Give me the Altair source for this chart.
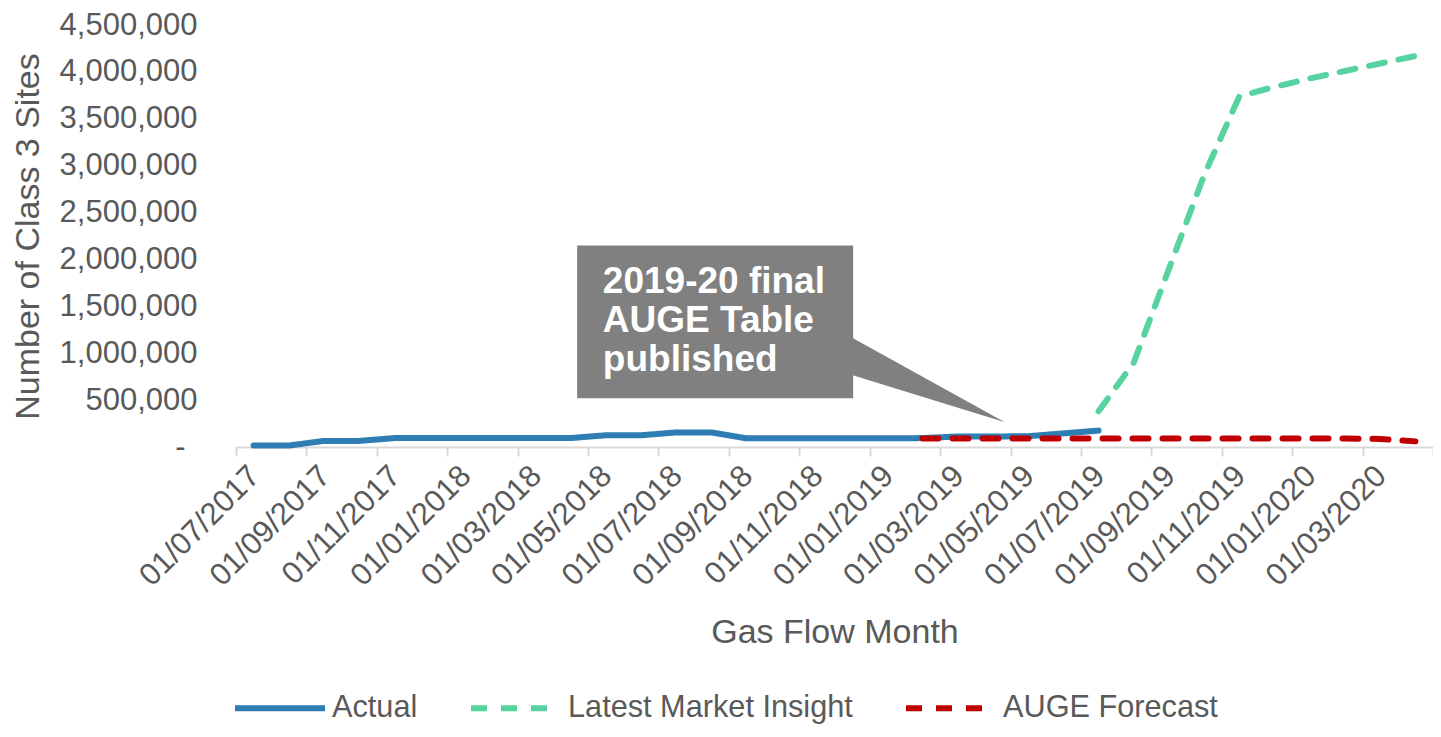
import json
import altair as alt
import pandas as pd

# ---------------- data ----------------
months = ['07/2017', '08/2017', '09/2017', '10/2017', '11/2017', '12/2017',
          '01/2018', '02/2018', '03/2018', '04/2018', '05/2018', '06/2018',
          '07/2018', '08/2018', '09/2018', '10/2018', '11/2018', '12/2018',
          '01/2019', '02/2019', '03/2019', '04/2019', '05/2019', '06/2019',
          '07/2019', '08/2019', '09/2019', '10/2019', '11/2019', '12/2019',
          '01/2020', '02/2020', '03/2020', '04/2020']

tick_labels = ['01/07/2017', '01/09/2017', '01/11/2017', '01/01/2018', '01/03/2018',
               '01/05/2018', '01/07/2018', '01/09/2018', '01/11/2018', '01/01/2019',
               '01/03/2019', '01/05/2019', '01/07/2019', '01/09/2019', '01/11/2019',
               '01/01/2020', '01/03/2020']

actual_start = '07/2017'
actual = [15000, 15000, 65000, 65000, 95000, 95000, 95000, 95000, 95000, 95000,
          125000, 125000, 155000, 155000, 92000, 92000, 92000, 92000, 92000, 95000,
          112000, 112000, 115000, 145000, 175000]

lmi_start = '07/2019'
latest_market_insight = [380000, 900000, 1900000, 2900000, 3740000, 3840000,
                         3930000, 4010000, 4090000, 4170000]

auge_start = '02/2019'
auge_forecast = [90000, 90000, 90000, 90000, 90000, 90000, 90000, 90000, 90000,
                 90000, 90000, 90000, 90000, 86000, 60000]

series_names = ['Actual', 'Latest Market Insight', 'AUGE Forecast']
series_colors = ['#2F7EB3', '#57D3A0', '#C00000']
series_dash = [[1, 0], [16, 14], [16, 14]]

y_ticks = [0, 500000, 1000000, 1500000, 2000000, 2500000, 3000000, 3500000,
           4000000, 4500000]

callout_text = '2019-20 final\nAUGE Table\npublished'

# ---------------- frames ----------------
rows = []
for name, start, vals in [(series_names[0], actual_start, actual),
                          (series_names[1], lmi_start, latest_market_insight),
                          (series_names[2], auge_start, auge_forecast)]:
    s = months.index(start)
    for i, v in enumerate(vals):
        rows.append({'m': s + i, 'v': v, 'series': name, 'month': months[s + i]})
df = pd.DataFrame(rows)

W, H = 1197, 422
TOP = 17
n = len(months)
mpx = W / n

FONT = 'Liberation Sans'
TXT = '#595959'

x_scale = alt.Scale(domain=[-0.5, n - 0.5], nice=False, zero=False)
y_scale = alt.Scale(domain=[0, 4500000], nice=False)

x_axis = alt.Axis(
    values=[i - 0.5 for i in range(0, n + 1, 2)],
    labelExpr=f"{json.dumps(tick_labels)}[round((datum.value + 0.5) / 2)] || ''",
    labelAngle=-45, labelAlign='right', labelBaseline='middle',
    labelOffset=mpx / 2 + 1, labelOverlap=False, labelFlush=False,
    labelPadding=15, labelFontSize=31, labelColor=TXT, labelFont=FONT,
    tickSize=9, tickColor='#D9D9D9', tickWidth=2,
    domainColor='#D9D9D9', domainWidth=2, grid=False,
    title='Gas Flow Month', titleFont=FONT, titleFontSize=34, titleColor=TXT,
    titleFontWeight='normal', titleX=W / 2, titleY=185, titleBaseline='middle',
    titleAlign='center',
)
y_axis = alt.Axis(
    values=y_ticks,
    labelExpr="datum.value == 0 ? '-' : format(datum.value, ',')",
    labelFontSize=31, labelColor=TXT, labelFont=FONT,
    labelPadding={'condition': {'test': 'datum.value == 0', 'value': 51}, 'value': 39},
    ticks=False, domain=False, grid=False,
    title='Number of Class 3 Sites', titleFont=FONT, titleFontSize=34,
    titleColor=TXT, titleFontWeight='normal', titleAngle=-90,
    titleX=28 - 236, titleY=H / 2, titleAlign='center', titleBaseline='middle',
)

X = alt.X('m:Q', scale=x_scale, axis=x_axis)
Y = alt.Y('v:Q', scale=y_scale, axis=y_axis)

color = alt.Color('series:N', scale=alt.Scale(domain=series_names, range=series_colors),
                  legend=alt.Legend(
                      title=None, orient='none', direction='horizontal',
                      legendX=-4, legendY=705 - 8 - TOP - 45, symbolType='stroke',
                      symbolSize=8100, symbolStrokeWidth=6, labelFont=FONT,
                      labelFontSize=30.7, labelColor=TXT, labelOffset=4,
                      columnPadding=41, padding=0, labelLimit=400))
dash = alt.StrokeDash('series:N', scale=alt.Scale(domain=series_names, range=series_dash),
                      legend=None)

def line_layer(name):
    return (alt.Chart(df[df.series == name])
            .mark_line(strokeWidth=6, strokeCap='round', strokeJoin='round')
            .encode(x=X, y=Y, color=color, strokeDash=dash))

layers = [line_layer(s) for s in series_names]

box_df = pd.DataFrame({'m': [9.19], 'm2': [17.03], 'v': [519000], 'v2': [2149000]})
box = alt.Chart(box_df).mark_rect(color='#808080').encode(x=X, x2='m2:Q', y=Y, y2='v2:Q')

tri_df = pd.DataFrame({'m': [16.95, 21.34], 'v': [1175000, 265000], 'v2': [773000, 265000]})
tri = alt.Chart(tri_df).mark_area(color='#808080', opacity=1).encode(x=X, y=Y, y2='v2:Q')

txt_df = pd.DataFrame({'m': [9.92], 'v': [1641000], 't': [callout_text]})
txt = (alt.Chart(txt_df)
       .mark_text(align='left', baseline='alphabetic', font=FONT, fontSize=37,
                  fontWeight='bold', color='white', lineBreak='\n', lineHeight=39)
       .encode(x=X, y=Y, text='t:N'))

TOTAL_H = 717
chart = (alt.layer(box, tri, txt, *layers)
         .properties(width=W, height=H, background='white',
                     autosize=alt.AutoSizeParams(type='none'),
                     padding={'left': 228, 'top': TOP, 'right': 0,
                              'bottom': TOTAL_H - TOP - H})
         .configure_view(stroke=None))

chart.save('out.html', embed_options={'renderer': 'svg', 'actions': False})
